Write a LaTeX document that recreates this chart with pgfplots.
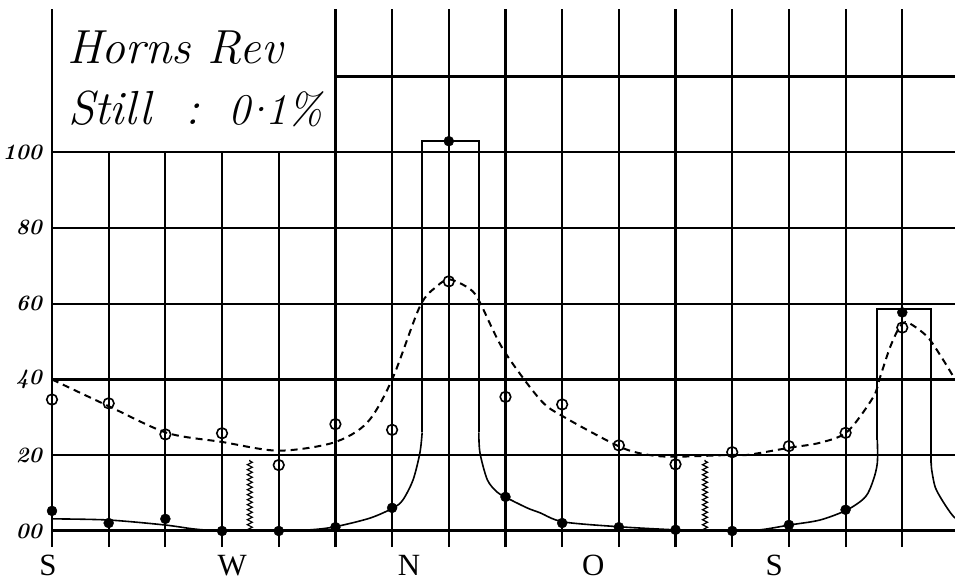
\documentclass[border=0pt]{standalone}
\usepackage{fontspec}
\newfontfamily\timesfont{Liberation Serif}
\usepackage{pgfplots}
\pgfplotsset{compat=1.18}
\usetikzlibrary{decorations.pathmorphing}

\begin{document}
\begin{tikzpicture}
\begin{axis}[
    scale only axis, width=903bp, height=538bp,
    xmin=0, xmax=15.93, ymin=-4.23, ymax=137.8,
    axis x line=none, axis y line=left,
    y axis line style={-, line width=2.2bp},
    ytick={0,20,40,60,80,100},
    yticklabels={00,20,40,60,80,100},
    major tick length=0pt,
    ymajorgrids, major grid style={black, line width=2.2bp},
    yticklabel style={font=\fontsize{22}{22}\selectfont\bfseries\itshape,
        anchor=east, inner sep=0pt, xshift=-10bp},
    clip mode=individual,
    ]
    % grid: short verticals under the title, full ones to the right
    \pgfplotsinvokeforeach{1,2,3,4}{
        \draw[line width=2.2bp] (axis cs:#1,-4.23) -- (axis cs:#1,100);}
    \pgfplotsinvokeforeach{5,6,7,8,9,10,11,12,13,14,15}{
        \draw[line width=2.2bp] (axis cs:#1,-4.23) -- (axis cs:#1,137.8);}
    \draw[line width=2.2bp] (axis cs:5,120) -- (axis cs:15.93,120);
    \draw[line width=3bp] (axis cs:0,0) -- (axis cs:15.93,0);

    % solid curve
    \addplot[black, line width=1.6bp, smooth] coordinates {
        (0,3.2) (0.99,2.9) (1.98,1.6) (2.52,0.5) (3,0.05) (3.99,0.05)
        (4.55,0.3) (4.99,1.1) (5.61,3.4) (6.02,6.1) (6.19,8.2)
        (6.37,13.5) (6.49,20.6) (6.53,26) };
    \addplot[black, line width=2bp, sharp plot] coordinates {
        (6.53,26) (6.53,102.9) (7.53,102.9) (7.53,26) };
    \addplot[black, line width=1.6bp, smooth] coordinates {
        (7.53,26) (7.55,20.6) (7.68,13.5) (7.85,10.3) (7.99,9.0)
        (8.38,6.1) (8.61,4.8) (9.02,2.4) (10.02,1.1) (10.99,0.3)
        (11.52,0.05) (11.98,0.05) (12.49,0.3) (13.02,1.6) (13.55,2.9)
        (14.03,5.6) (14.35,9) (14.49,13.5) (14.56,18) (14.56,24) };
    \addplot[black, line width=2bp, sharp plot] coordinates {
        (14.56,24) (14.56,58.5) (15.51,58.5) (15.51,18) };
    \addplot[black, line width=1.6bp, smooth] coordinates {
        (15.51,18) (15.52,16) (15.58,11.6) (15.70,8.2) (15.85,4.8) (15.93,3.4) };

    % dashed curve
    \addplot[black, line width=2bp, dash pattern=on 7bp off 5bp, smooth] coordinates {
        (0,40) (1.02,32.8) (2.03,25.9) (3,23.5) (3.99,21.2) (4.96,23.3)
        (5.56,28.6) (6,40) (6.49,59.3) (6.79,64.6) (7.02,66.4) (7.38,63.8)
        (7.55,60.3) (7.96,47.9) (8.61,34.7) (9.02,30.2) (10.02,22.2)
        (10.52,20.1) (10.99,19.6) (12,20.1) (12.28,20.1) (13.02,22)
        (13.55,23.3) (14.03,26.2) (14.49,35.4) (14.61,40.7) (14.79,48.7)
        (14.96,54) (15.1,55) (15.44,51.3) (15.72,45.2) (15.93,40) };

    % calm markers
    \addplot[black, line width=1.2bp, decorate,
        decoration={zigzag, amplitude=2.5bp, segment length=5bp}]
        coordinates {(3.49,0) (3.49,18.8)};
    \addplot[black, line width=1.2bp, decorate,
        decoration={zigzag, amplitude=2.5bp, segment length=5bp}]
        coordinates {(11.52,0) (11.52,18.8)};

    % hollow points
    \addplot[only marks, mark=o, mark size=5.3bp, mark options={line width=1.6bp, black}]
        coordinates {
        (0,34.7) (1,33.7) (2,25.5) (3,25.8) (4,17.4) (5,28.2) (6,26.7)
        (7,65.9) (8,35.4) (9,33.4) (10,22.6) (11,17.6) (12,20.8)
        (13,22.4) (14,25.9) (15,53.7) };
    % filled points
    \addplot[only marks, mark=*, mark size=5bp, black] coordinates {
        (0,5.3) (1,2.1) (2,3.2) (3,0) (4,0) (5,1.0) (6,6.1) (7,102.9)
        (8,9.0) (9,2.1) (10,1.0) (11,0.3) (12,0) (13,1.6) (14,5.6) (15,57.7) };

    % title
    \node[anchor=base west, inner sep=0, font=\fontsize{48}{48}\selectfont\itshape]
        at (axis cs:0.265,123.3) {Horns Rev};
    \node[anchor=base west, inner sep=0, font=\fontsize{48}{48}\selectfont\itshape]
        at (axis cs:0.28,107.4) {Still};
    \node[anchor=base west, inner sep=0, font=\fontsize{48}{48}\selectfont\itshape]
        at (axis cs:2.36,107.4) {:};
    \node[anchor=base west, inner sep=0, font=\fontsize{44}{44}\selectfont\itshape]
        at (axis cs:3.11,107.4) {0\kern-0.2em·\kern-0.2em1\%};

    % compass labels
    \node[anchor=base, inner sep=0, font=\timesfont\fontsize{31}{31}\selectfont]
        at (axis cs:-0.07,-11.8) {S};
    \node[anchor=base, inner sep=0, font=\timesfont\fontsize{31}{31}\selectfont]
        at (axis cs:3.18,-11.8) {W};
    \node[anchor=base, inner sep=0, font=\timesfont\fontsize{31}{31}\selectfont]
        at (axis cs:6.30,-11.8) {N};
    \node[anchor=base, inner sep=0, font=\timesfont\fontsize{31}{31}\selectfont]
        at (axis cs:9.55,-11.8) {O};
    \node[anchor=base, inner sep=0, font=\timesfont\fontsize{31}{31}\selectfont]
        at (axis cs:12.74,-11.8) {S};

    \coordinate (sw) at (rel axis cs:0,0);
    \coordinate (ne) at (rel axis cs:1,1);
\end{axis}
\pgfresetboundingbox
\path ([shift={(-52bp,-35bp)}]sw) rectangle ([shift={(0bp,9bp)}]ne);
\end{tikzpicture}
\end{document}
